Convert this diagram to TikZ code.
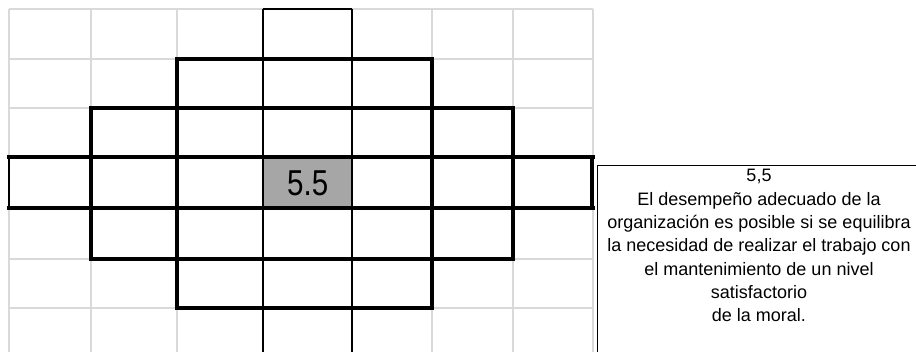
\documentclass[tikz,border=0pt]{standalone}
\usepackage{fontspec}
\setmainfont{Liberation Sans}
\newfontfamily\narrowfont[FakeStretch=0.82]{Liberation Sans}
\definecolor{gridgray}{HTML}{D9D9D9}
\definecolor{cellgray}{HTML}{A6A6A6}
\tikzset{
  gridline/.style={draw=gridgray, line width=1.6pt},
  thickline/.style={draw=black, line width=4pt, line cap=rect},
  thinline/.style={draw=black, line width=2pt},
  boxline/.style={draw=black, line width=1.5pt},
}
\begin{document}
\begin{tikzpicture}[x=1pt,y=-1pt]
\useasboundingbox (0,0) rectangle (916,352);
\clip (0,0) rectangle (916,352);
% light grid
\foreach \x in {9,91,177,263,352,432,513,593}
  \draw[gridline] (\x,9) -- (\x,360);
\foreach \y in {9,59,108,157.5,208,259,308}
  \draw[gridline] (9,\y) -- (593,\y);
% centre cell
\node[fill=cellgray, minimum width=89pt, minimum height=50.5pt, inner sep=0pt, anchor=north west] (center) at (263,157.5) {};
\node[font=\narrowfont\fontsize{36}{36}\selectfont] (centertext) at (center.center) {5.5};
% thin black lines
\draw[thinline] (263,9) -- (352,9);
\draw[thinline] (263,9) -- (263,360);
\draw[thinline] (352,9) -- (352,360);
\draw[thinline] (9,157.5) -- (9,208);
% thick staircase lines
\draw[thickline] (177,59) -- (432,59);
\draw[thickline] (91,108) -- (513,108);
\draw[thickline] (9,157.5) -- (593,157.5);
\draw[thickline] (9,208) -- (593,208);
\draw[thickline] (91,259) -- (513,259);
\draw[thickline] (177,308) -- (432,308);
\draw[thickline] (91,108) -- (91,259);
\draw[thickline] (177,59) -- (177,308);
\draw[thickline] (432,59) -- (432,308);
\draw[thickline] (513,108) -- (513,259);
\draw[thickline] (592,157.5) -- (592,208);
% description box
\node[boxline, minimum width=340pt, minimum height=200pt, anchor=north west] (box) at (596.5,165) {};
\node[align=center, font=\fontsize{18}{23.3}\selectfont, anchor=north] (desc) at (759,166) {5,5\\El desempeño adecuado de la\\organización es posible si se equilibra\\la necesidad de realizar el trabajo con\\el mantenimiento de un nivel\\satisfactorio\\de la moral.};
\end{tikzpicture}
\end{document}
